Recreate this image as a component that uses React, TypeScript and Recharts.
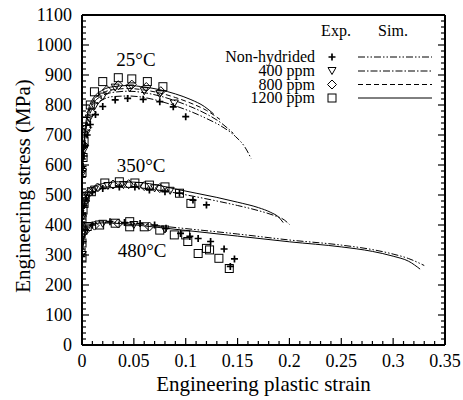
import React from 'react';
import { ComposedChart, Line, Scatter, XAxis, YAxis, Legend, ReferenceDot } from 'recharts';

const FONT = "'Liberation Serif', 'Times New Roman', Times, serif";
const TXT = { fontFamily: FONT };

// simulated curves, [strain, stress MPa]
const SIM_25_NH = [[0, 560], [0.003, 695], [0.006, 752], [0.01, 788], [0.02, 818], [0.03, 828], [0.045, 830], [0.06, 825], [0.075, 813], [0.09, 797], [0.105, 778], [0.12, 755], [0.135, 728], [0.148, 695], [0.157, 660], [0.163, 622]];
const SIM_25_400 = [[0, 565], [0.003, 705], [0.006, 765], [0.01, 800], [0.02, 832], [0.03, 842], [0.045, 846], [0.06, 841], [0.075, 830], [0.09, 814], [0.105, 794], [0.12, 770], [0.135, 738], [0.146, 705]];
const SIM_25_800 = [[0, 568], [0.003, 712], [0.006, 773], [0.01, 808], [0.02, 840], [0.03, 851], [0.045, 855], [0.06, 850], [0.075, 840], [0.09, 825], [0.105, 806], [0.12, 782], [0.133, 752]];
const SIM_25_1200 = [[0, 572], [0.003, 720], [0.006, 782], [0.01, 818], [0.02, 850], [0.03, 861], [0.045, 865], [0.06, 860], [0.075, 851], [0.09, 837], [0.105, 818], [0.118, 795], [0.127, 770]];
const SIM_350_NH = [[0, 415], [0.003, 468], [0.006, 492], [0.01, 507], [0.02, 520], [0.035, 526], [0.05, 525], [0.07, 518], [0.09, 507], [0.11, 494], [0.13, 480], [0.15, 465], [0.17, 448], [0.185, 432], [0.195, 417], [0.2, 402]];
const SIM_350_1200 = [[0, 425], [0.003, 482], [0.006, 510], [0.01, 524], [0.02, 538], [0.035, 544], [0.05, 543], [0.07, 535], [0.09, 520], [0.11, 506], [0.13, 492], [0.15, 476], [0.17, 458], [0.182, 442], [0.19, 425], [0.194, 408]];
const SIM_480_NH = [[0, 300], [0.002, 362], [0.005, 392], [0.01, 404], [0.02, 410], [0.04, 408], [0.06, 402], [0.1, 388], [0.15, 370], [0.2, 350], [0.25, 333], [0.28, 318], [0.3, 303], [0.315, 288], [0.33, 265]];
const SIM_480_1200 = [[0, 295], [0.002, 356], [0.005, 388], [0.01, 401], [0.02, 407], [0.04, 404], [0.06, 397], [0.1, 382], [0.15, 363], [0.2, 344], [0.25, 327], [0.28, 312], [0.3, 296], [0.315, 279], [0.326, 253]];

// experiments
const EXP_25_NH = [[0, 560], [0.001, 595], [0.002, 630], [0.003, 665], [0.005, 700], [0.008, 735], [0.013, 768], [0.02, 795], [0.032, 817], [0.044, 822], [0.059, 819], [0.075, 811], [0.088, 794], [0.1, 761]];
const EXP_25_400 = [[0, 570], [0.002, 650], [0.004, 705], [0.007, 755], [0.012, 795], [0.02, 828], [0.032, 858], [0.046, 855], [0.06, 846], [0.075, 836], [0.089, 805]];
const EXP_25_800 = [[0, 585], [0.002, 665], [0.005, 725], [0.009, 775], [0.015, 818], [0.024, 850], [0.035, 866], [0.048, 868], [0.062, 860], [0.076, 846]];
const EXP_25_1200 = [[0, 575], [0.001, 625], [0.002, 680], [0.004, 745], [0.008, 800], [0.012, 844], [0.02, 878], [0.035, 891], [0.048, 887], [0.063, 878], [0.078, 861]];
const EXP_350_NH = [[0, 410], [0.001, 440], [0.002, 465], [0.004, 490], [0.01, 510], [0.02, 522], [0.036, 527], [0.051, 527], [0.065, 517], [0.08, 511], [0.094, 506], [0.107, 483], [0.12, 467]];
const EXP_350_400 = [[0, 425], [0.002, 468], [0.005, 498], [0.012, 518], [0.025, 530], [0.04, 533], [0.055, 530], [0.07, 522], [0.085, 514]];
const EXP_350_800 = [[0, 430], [0.003, 480], [0.007, 508], [0.015, 525], [0.03, 535], [0.045, 536], [0.06, 530], [0.075, 523]];
const EXP_350_1200 = [[0, 420], [0.001, 450], [0.002, 472], [0.003, 494], [0.009, 511], [0.022, 540], [0.036, 544], [0.051, 540], [0.065, 533], [0.08, 527], [0.094, 506], [0.105, 472]];
const EXP_480_NH = [[0, 295], [0.001, 345], [0.003, 385], [0.01, 400], [0.027, 411], [0.041, 408], [0.056, 405], [0.07, 400], [0.081, 389], [0.095, 372], [0.104, 362], [0.112, 355], [0.124, 345], [0.137, 320], [0.147, 287], [0.143, 262]];
const EXP_480_400 = [[0, 300], [0.002, 370], [0.006, 395], [0.02, 404], [0.05, 400], [0.08, 385]];
const EXP_480_800 = [[0, 310], [0.003, 380], [0.012, 398], [0.035, 405], [0.065, 395]];
const EXP_480_1200 = [[0, 290], [0, 340], [0.001, 383], [0.005, 395], [0.017, 400], [0.032, 406], [0.046, 411], [0.046, 394], [0.06, 394], [0.075, 383], [0.089, 367], [0.1, 367], [0.102, 345], [0.112, 305], [0.12, 322], [0.123, 317], [0.132, 289], [0.142, 255]];

const SERIES_NAMES = ['Non-hydrided', '400 ppm', '800 ppm', '1200 ppm'];
const DASHES = ['7 2 1.5 2 1.5 2', '7 2 1.5 2', '5 3', undefined];
const TEMP_LABELS = ['25°C', '350°C', '480°C'];
const TEMP_LABEL_POS = [[0.052, 952], [0.057, 600], [0.058, 317]];

const X_LABELS = ['0', '0.05', '0.1', '0.15', '0.2', '0.25', '0.3', '0.35'];
const X_TICKS = Array.from({ length: 36 }, (_, i) => i / 100);
const Y_TICKS = Array.from({ length: 56 }, (_, i) => i * 20);

const xy = (pts: number[][]) => pts.map(([x, y]) => ({ x, y }));
const isMajorX = (v: number) => Math.round(v * 100) % 5 === 0;
const isMajorY = (v: number) => Math.round(v) % 100 === 0;

const Plus = ({ cx, cy }: any) => (
  <path d={`M${cx - 3.5},${cy}h7M${cx},${cy - 3.5}v7`} stroke="#000" strokeWidth={1.7} fill="none" />
);
const TriDown = ({ cx, cy }: any) => (
  <polygon points={`${cx - 4},${cy - 3.5} ${cx + 4},${cy - 3.5} ${cx},${cy + 3.5}`} stroke="#000" strokeWidth={1} fill="none" />
);
const Diamond = ({ cx, cy }: any) => (
  <polygon points={`${cx},${cy - 4.5} ${cx + 4.5},${cy} ${cx},${cy + 4.5} ${cx - 4.5},${cy}`} stroke="#000" strokeWidth={1} fill="none" />
);
const Square = ({ cx, cy }: any) => (
  <rect x={cx - 4} y={cy - 4} width={8} height={8} stroke="#000" strokeWidth={1} fill="none" />
);
const MARKERS = [Plus, TriDown, Diamond, Square];

const BottomTick = (p: any) => {
  const v = p.payload.value;
  const major = isMajorX(v);
  return (
    <g>
      <line x1={p.x} y1={p.y} x2={p.x} y2={p.y - (major ? 7 : 4)} stroke="#000" strokeWidth={1.2} />
      {major && (
        <text x={p.x} y={p.y + 22} textAnchor="middle" style={TXT} fontSize={18} fill="#000">
          {X_LABELS[Math.round(v * 20)]}
        </text>
      )}
    </g>
  );
};
const TopTick = (p: any) => (
  <line x1={p.x} y1={p.y} x2={p.x} y2={p.y + (isMajorX(p.payload.value) ? 7 : 4)} stroke="#000" strokeWidth={1.2} />
);
const LeftTick = (p: any) => {
  const v = p.payload.value;
  const major = isMajorY(v);
  return (
    <g>
      <line x1={p.x} y1={p.y} x2={p.x + (major ? 7 : 4)} y2={p.y} stroke="#000" strokeWidth={1.2} />
      {major && (
        <text x={p.x - 10} y={p.y + 6} textAnchor="end" style={TXT} fontSize={18} fill="#000">
          {v}
        </text>
      )}
    </g>
  );
};
const RightTick = (p: any) => (
  <line x1={p.x} y1={p.y} x2={p.x - (isMajorY(p.payload.value) ? 7 : 4)} y2={p.y} stroke="#000" strokeWidth={1.2} />
);

const LegendBox = () => {
  const rows = [57, 71, 84.5, 98];
  return (
    <svg width={463} height={400} style={{ position: 'absolute', left: 0, top: 0 }}>
      <g style={TXT} fontSize={16} fill="#000">
        <text x={336} y={36} textAnchor="middle">Exp.</text>
        <text x={393} y={36} textAnchor="middle">Sim.</text>
        {SERIES_NAMES.map((name, i) => {
          const M = MARKERS[i];
          return (
            <g key={name}>
              <text x={315} y={rows[i] + 5} textAnchor="end">{name}</text>
              <M cx={332} cy={rows[i]} />
              <line x1={358} x2={432} y1={rows[i]} y2={rows[i]} stroke="#000" strokeWidth={1} strokeDasharray={DASHES[i]} />
            </g>
          );
        })}
      </g>
    </svg>
  );
};

const simLines = [
  { data: SIM_25_NH, dash: DASHES[0] },
  { data: SIM_25_400, dash: DASHES[1] },
  { data: SIM_25_800, dash: DASHES[2] },
  { data: SIM_25_1200, dash: DASHES[3] },
  { data: SIM_350_NH, dash: DASHES[0] },
  { data: SIM_350_1200, dash: DASHES[3] },
  { data: SIM_480_NH, dash: DASHES[0] },
  { data: SIM_480_1200, dash: DASHES[3] },
];

const expSets = [
  { data: EXP_25_400, m: 1 }, { data: EXP_25_800, m: 2 }, { data: EXP_25_1200, m: 3 }, { data: EXP_25_NH, m: 0 },
  { data: EXP_350_400, m: 1 }, { data: EXP_350_800, m: 2 }, { data: EXP_350_1200, m: 3 }, { data: EXP_350_NH, m: 0 },
  { data: EXP_480_400, m: 1 }, { data: EXP_480_800, m: 2 }, { data: EXP_480_1200, m: 3 }, { data: EXP_480_NH, m: 0 },
];

export default function App() {
  return (
    <div style={{ position: 'absolute', left: 0, top: 0, background: '#fff', fontFamily: FONT }}>
      <ComposedChart width={463} height={400} margin={{ top: 0, right: 0, bottom: 0, left: 0 }} style={TXT}>
        <XAxis
          xAxisId={0}
          type="number"
          dataKey="x"
          domain={[0, 0.35]}
          allowDataOverflow
          ticks={X_TICKS}
          interval={0}
          height={55}
          tickSize={0}
          tickMargin={0}
          tickLine={false}
          axisLine={{ stroke: '#000', strokeWidth: 2 }}
          tick={(p: any) => <BottomTick {...p} />}
          label={{ value: 'Engineering plastic strain', position: 'insideBottom', offset: 9, style: TXT, fontSize: 21, fill: '#000' }}
        />
        <XAxis
          xAxisId="top"
          orientation="top"
          type="number"
          domain={[0, 0.35]}
          allowDataOverflow
          ticks={X_TICKS}
          interval={0}
          height={15}
          tickSize={0}
          tickMargin={0}
          tickLine={false}
          axisLine={{ stroke: '#000', strokeWidth: 2 }}
          tick={(p: any) => <TopTick {...p} />}
        />
        <YAxis
          yAxisId={0}
          type="number"
          domain={[0, 1100]}
          allowDataOverflow
          ticks={Y_TICKS}
          interval={0}
          width={82}
          tickSize={0}
          tickMargin={0}
          tickLine={false}
          axisLine={{ stroke: '#000', strokeWidth: 2 }}
          tick={(p: any) => <LeftTick {...p} />}
          label={{ value: 'Engineering stress (MPa)', angle: -90, position: 'center', dx: -18.5, dy: 6, style: TXT, fontSize: 21, fill: '#000' }}
        />
        <YAxis
          yAxisId="right"
          orientation="right"
          type="number"
          domain={[0, 1100]}
          allowDataOverflow
          ticks={Y_TICKS}
          interval={0}
          width={18}
          tickSize={0}
          tickMargin={0}
          tickLine={false}
          axisLine={{ stroke: '#000', strokeWidth: 2 }}
          tick={(p: any) => <RightTick {...p} />}
        />
        {simLines.map((s, i) => (
          <Line
            key={`sim-${i}`}
            data={xy(s.data)}
            dataKey="y"
            type="monotone"
            stroke="#000"
            strokeWidth={1}
            strokeDasharray={s.dash}
            dot={false}
            activeDot={false}
            isAnimationActive={false}
          />
        ))}
        {expSets.map((s, i) => {
          const M = MARKERS[s.m];
          return (
            <Scatter
              key={`exp-${i}`}
              data={xy(s.data)}
              dataKey="y"
              isAnimationActive={false}
              shape={(p: any) => <M cx={p.cx} cy={p.cy} />}
            />
          );
        })}
        {TEMP_LABELS.map((t, i) => (
          <ReferenceDot
            key={t}
            x={TEMP_LABEL_POS[i][0]}
            y={TEMP_LABEL_POS[i][1]}
            r={0}
            fill="none"
            stroke="none"
            label={{ value: t, position: 'center', style: TXT, fontSize: 19, fill: '#000' }}
          />
        ))}
        <Legend
          layout="vertical"
          align="center"
          verticalAlign="middle"
          wrapperStyle={{ position: 'absolute', left: 0, top: 0, width: 463, height: 400, pointerEvents: 'none' }}
          content={() => <LegendBox />}
        />
      </ComposedChart>
    </div>
  );
}
